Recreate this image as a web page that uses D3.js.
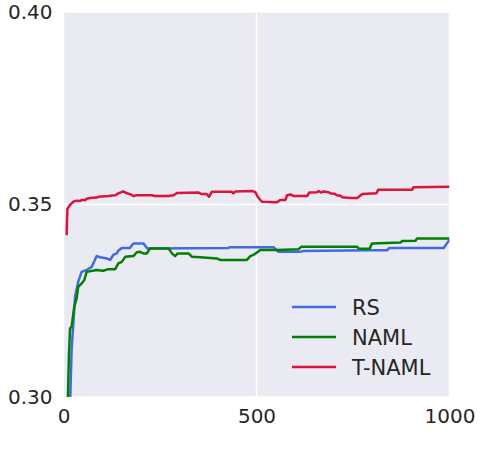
<!DOCTYPE html>
<html lang="en">
<head>
<meta charset="utf-8">
<title>RS vs NAML vs T-NAML</title>
<script type="text/javascript" src="https://d3js.org/d3.v7.min.js"></script>
<style>
    body { margin: 0; background: white; }
    text { font-family: "DejaVu Sans", sans-serif; fill: #262626; }
</style>
</head>
<body>
<div id="container"></div>
<script type="text/javascript">

    //data: [iteration, score]
    var rs = [[17,0.2980],[21,0.3122],[30,0.3261],[38,0.3299],[47,0.3325],[60,0.3330],[73,0.3338],[86,0.3366],[95,0.3363],
        [112,0.3360],[121,0.3356],[129,0.3369],[138,0.3373],[142,0.3380],[151,0.3387],[172,0.3387],[181,0.3399],[207,0.3399],
        [217,0.3386],[427,0.3387],[430,0.3389],[544,0.3389],[557,0.3377],[613,0.3377],[620,0.3379],[795,0.3381],[838,0.3381],
        [844,0.3387],[985,0.3387],[992,0.3397],[1000,0.3408]];

    var naml = [[11,0.2980],[14,0.3105],[17,0.3178],[21,0.3183],[28,0.3235],[34,0.3256],[38,0.3286],[47,0.3295],[54,0.3304],
        [60,0.3325],[86,0.3330],[103,0.3328],[116,0.3332],[134,0.3332],[142,0.3347],[151,0.3351],[160,0.3364],[181,0.3366],
        [190,0.3376],[198,0.3377],[207,0.3373],[216,0.3373],[224,0.3386],[272,0.3386],[281,0.3373],[289,0.3366],[296,0.3373],
        [324,0.3373],[333,0.3364],[354,0.3363],[397,0.3360],[406,0.3356],[475,0.3356],[484,0.3366],[492,0.3369],[510,0.3382],
        [553,0.3382],[609,0.3384],[616,0.3390],[761,0.3390],[765,0.3385],[793,0.3385],[799,0.3399],[873,0.3401],[877,0.3405],
        [912,0.3406],[916,0.3412],[1000,0.3412]];

    var tnaml = [[8,0.3420],[10,0.3488],[17,0.3499],[25,0.3507],[34,0.3510],[43,0.3509],[47,0.3512],[56,0.3511],[60,0.3515],
        [69,0.3517],[86,0.3518],[90,0.3520],[116,0.3522],[134,0.3524],[142,0.3529],[155,0.3534],[164,0.3529],[173,0.3527],
        [181,0.3522],[190,0.3524],[229,0.3524],[237,0.3522],[272,0.3522],[285,0.3524],[294,0.3530],[350,0.3531],[358,0.3527],
        [371,0.3527],[377,0.3520],[384,0.3533],[436,0.3533],[440,0.3529],[445,0.3534],[488,0.3535],[497,0.3532],[503,0.3520],
        [514,0.3507],[553,0.3506],[562,0.3512],[575,0.3512],[579,0.3524],[588,0.3526],[597,0.3522],[631,0.3522],[637,0.3531],
        [657,0.3532],[661,0.3535],[667,0.3531],[674,0.3534],[687,0.3532],[691,0.3529],[704,0.3527],[708,0.3524],[717,0.3523],
        [722,0.3519],[743,0.3517],[761,0.3517],[774,0.3527],[811,0.3529],[815,0.3538],[903,0.3538],[907,0.3545],[1000,0.3546]];

    var seriesNames = ["RS", "NAML", "T-NAML"];
    var seriesColors = ["#4169e1", "#008000", "#dc143c"];
    var xTicks = [0, 500, 1000];
    var yTicks = [0.30, 0.35, 0.40];

    //layout
    var w = 500;
    var h = 461;
    var margin = {left: 63.5, top: 12, right: 50.5, bottom: 64};
    var pw = w - margin.left - margin.right;
    var ph = h - margin.top - margin.bottom;

    var svg = d3.select("div#container").append("svg")
        .attr("width", w)
        .attr("height", h);

    var x = d3.scaleLinear().domain([0, 1000]).range([0, pw]);
    var y = d3.scaleLinear().domain([0.30, 0.40]).range([ph, 0]);

    var g = svg.append("g").attr("transform", "translate(" + margin.left + "," + margin.top + ")");

    //background + grid
    g.append("rect")
        .attr("width", pw)
        .attr("height", ph)
        .attr("fill", "#eaeaf2");

    g.append("clipPath").attr("id", "clip")
        .append("rect").attr("width", pw).attr("height", ph);

    g.selectAll("line.gx")
        .data(xTicks)
        .enter()
        .append("line")
        .attr("class", "gx")
        .attr("x1", function(d) {return x(d);})
        .attr("x2", function(d) {return x(d);})
        .attr("y1", 0)
        .attr("y2", ph)
        .attr("stroke", "white")
        .attr("stroke-width", 1.5);

    g.selectAll("line.gy")
        .data(yTicks)
        .enter()
        .append("line")
        .attr("class", "gy")
        .attr("y1", function(d) {return y(d);})
        .attr("y2", function(d) {return y(d);})
        .attr("x1", 0)
        .attr("x2", pw)
        .attr("stroke", "white")
        .attr("stroke-width", 1.5);

    //curves
    var line = d3.line()
        .x(function(d) {return x(d[0]);})
        .y(function(d) {return y(d[1]);});

    var allSeries = [rs, naml, tnaml];

    g.append("g").attr("clip-path", "url(#clip)")
        .selectAll("path")
        .data(allSeries)
        .enter()
        .append("path")
        .attr("d", line)
        .attr("fill", "none")
        .attr("stroke", function(d, i) {return seriesColors[i];})
        .attr("stroke-width", 2.5)
        .attr("stroke-linejoin", "round");

    //axes (labels only, seaborn style)
    var xAxis = g.append("g")
        .attr("transform", "translate(0," + ph + ")")
        .call(d3.axisBottom(x).tickValues(xTicks).tickSize(0).tickPadding(12).tickFormat(d3.format("d")));

    var yAxis = g.append("g")
        .call(d3.axisLeft(y).tickValues(yTicks).tickSize(0).tickPadding(11).tickFormat(d3.format(".2f")));

    [xAxis, yAxis].forEach(function(a) {
        a.select(".domain").remove();
        a.selectAll("text")
            .style("font-family", "'DejaVu Sans', sans-serif")
            .style("font-size", "20px")
            .attr("fill", "#262626");
    });

    //legend
    var legend = g.append("g").attr("transform", "translate(" + (292 - margin.left) + "," + (307 - margin.top) + ")");

    var items = legend.selectAll("g")
        .data(seriesNames)
        .enter()
        .append("g")
        .attr("transform", function(d, i) {return "translate(0," + (i * 30) + ")";});

    items.append("line")
        .attr("x1", 0)
        .attr("x2", 44)
        .attr("stroke", function(d, i) {return seriesColors[i];})
        .attr("stroke-width", 2.5);

    items.append("text")
        .attr("x", 60)
        .attr("y", 7.5)
        .style("font-size", "21px")
        .text(function(d) {return d;});

</script>
</body>
</html>
